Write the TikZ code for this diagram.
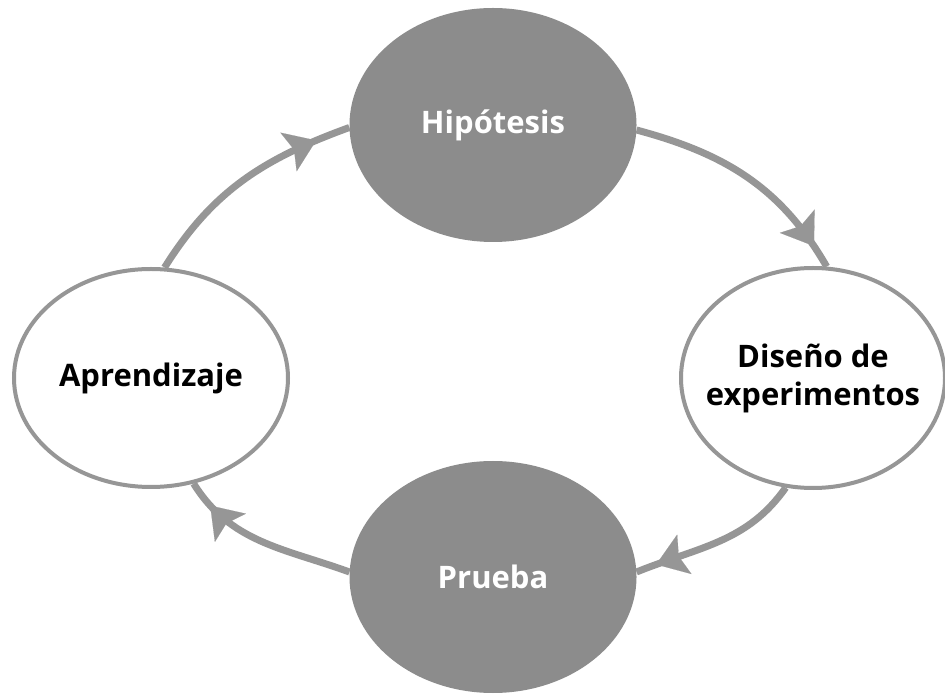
\documentclass[tikz,border=0pt]{standalone}
\usepackage{fontspec}
\setmainfont{Open Sans}
\usetikzlibrary{shapes.geometric,arrows.meta,decorations.markings}
\definecolor{fillgray}{RGB}{140,140,140}
\definecolor{linegray}{RGB}{150,150,150}
\tikzset{
  stage/.style={ellipse,inner sep=0pt,font=\bfseries\fontsize{31}{38}\selectfont,align=center},
  darkstage/.style={stage,fill=fillgray,text=white},
  lightstage/.style={stage,draw=linegray,line width=4pt,fill=white,text=black},
  stagetext/.style={inner sep=0pt,font=\bfseries\fontsize{31}{38}\selectfont,align=center},
  flow/.style={draw=linegray,line width=7pt,postaction={decorate},
    decoration={markings,mark=at position #1 with {\arrow[line width=0.1pt]{Stealth[length=30pt,width=42pt,inset=6pt,color=linegray]}}}},
  flow/.default=0.8
}
\begin{document}
\begin{tikzpicture}[x=1pt,y=1pt]
\useasboundingbox (0,0) rectangle (945,694);
\fill[white] (0,0) rectangle (945,694);
\node[darkstage,minimum width=287pt,minimum height=234pt] (hip) at (493,569) {Hipótesis};
\node[darkstage,minimum width=287pt,minimum height=232pt] (pru) at (493,117) {Prueba};
\node[lightstage,minimum width=274pt,minimum height=218pt] (apr) at (151,316) {Aprendizaje};
\node[lightstage,minimum width=264pt,minimum height=220pt] (dis) at (813,316) {};
\node[stagetext] (distext) at (dis.center) {Diseño de\\experimentos};
\path[flow=0.85] (apr.83) to[out=58,in=200] (hip.181);
\path[flow=0.9] (hip.-2) to[out=-15,in=120] (dis.83);
\path[flow=0.88] (dis.256) to[out=235,in=22] (pru.2);
\path[flow=0.85] (pru.178) to[out=160,in=-58] (apr.292);
\end{tikzpicture}
\end{document}
